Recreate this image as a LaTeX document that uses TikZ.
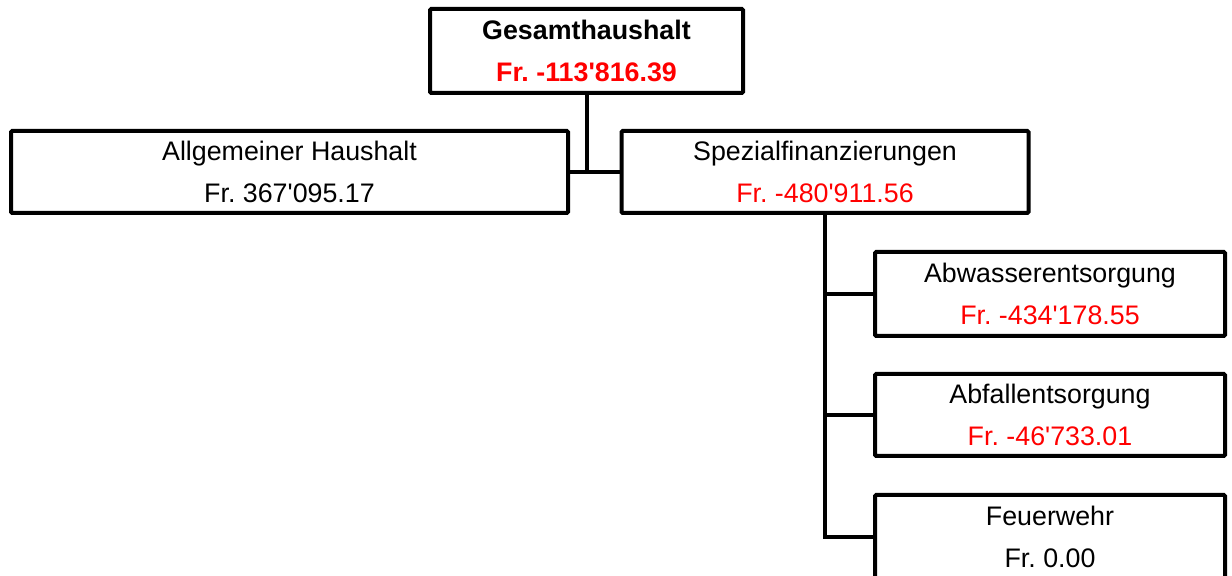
\documentclass[tikz,border=0pt]{standalone}
\usepackage{fontspec}
\newfontfamily\boxfont{Liberation Sans}
\usepackage{xcolor}
\definecolor{minusred}{rgb}{1.0, 0.0, 0.0}
\frenchspacing

\begin{document}
\begin{tikzpicture}[x=0.5pt, y=-0.5pt,
  box/.style={draw, line width=2pt, rounded corners=0.6pt, align=center, inner sep=0pt,
    font=\boxfont\fontsize{13.4}{20.8}\selectfont},
  link/.style={line width=2pt}]
\clip (0,0) rectangle (1232,576);

% Top level
\node[box, minimum width=156.5pt, minimum height=42pt] (ges) at (586.5,51)
  {\textbf{Gesamthaushalt}\\\textcolor{minusred}{\textbf{Fr. -113'816.39}}};

% Second level
\node[box, minimum width=278.5pt, minimum height=41pt] (allg) at (289.5,172)
  {Allgemeiner Haushalt\\Fr. 367'095.17};
\node[box, minimum width=203.5pt, minimum height=41pt] (spez) at (825,172)
  {Spezialfinanzierungen\\\textcolor{minusred}{Fr. -480'911.56}};

% Spezialfinanzierungen below
\node[box, minimum width=175pt, minimum height=42pt] (abw) at (1050,294)
  {Abwasserentsorgung\\\textcolor{minusred}{Fr. -434'178.55}};
\node[box, minimum width=175pt, minimum height=41pt] (abf) at (1050,415)
  {Abfallentsorgung\\\textcolor{minusred}{Fr. -46'733.01}};
\node[box, minimum width=175pt, minimum height=42pt] (feu) at (1050,537)
  {Feuerwehr\\Fr. 0.00};

% Lines
\draw[link] (ges.south) -- (ges.south |- allg.east);
\draw[link] (allg.east) -- (spez.west);
\draw[link] (spez.south) |- (abw.west);
\draw[link] (spez.south) |- (abf.west);
\draw[link] (spez.south) |- (feu.west);
\end{tikzpicture}
\end{document}
